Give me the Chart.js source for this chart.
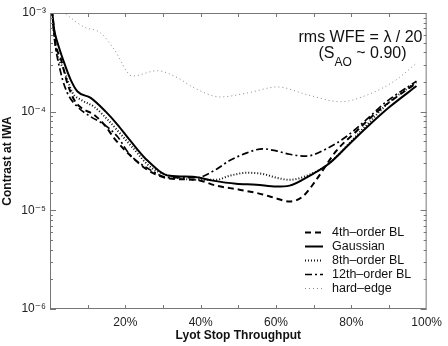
<!DOCTYPE html>
<html><head><meta charset="utf-8">
<script src="https://cdn.jsdelivr.net/npm/chart.js@4"></script>
<style>html,body{margin:0;padding:0;background:#fff}</style>
</head><body>
<canvas id="c" width="448" height="346"></canvas>
<script>
// ---- data (throughput in %, contrast at IWA) ----
const seriesNames = ['4th\u2013order BL', 'Gaussian', '8th\u2013order BL', '12th\u2013order BL', 'hard\u2013edge'];

const bl4T = [0.5, 1.5, 2.9, 4.6, 6.4, 8.2, 11.7, 14.8, 17.0, 22.0, 26.4, 31.7, 38.8, 44.1, 50.3, 56.5, 60.1, 63.6, 67.1, 70.7, 76.0, 81.3, 86.6, 92.0, 97.3];
const bl4C = [1.1e-3, 4.9e-4, 3.4e-4, 1.95e-4, 1.32e-4, 1.1e-4, 9.3e-5, 7.1e-5, 5.4e-5, 3.4e-5, 2.5e-5, 2.1e-5, 2.04e-5, 1.78e-5, 1.62e-5, 1.45e-5, 1.32e-5, 1.23e-5, 1.38e-5, 2.04e-5, 4.0e-5, 6.3e-5, 9.8e-5, 1.41e-4, 1.95e-4];

const gaussT = [0.5, 1.1, 2.0, 3.8, 5.5, 7.3, 10.8, 14.8, 17.9, 21.1, 25.5, 31.7, 37.9, 43.2, 49.4, 54.8, 60.1, 63.6, 68.9, 74.2, 79.5, 84.9, 90.2, 97.3];
const gaussC = [1.1e-3, 6.8e-4, 5.0e-4, 3.1e-4, 2.1e-4, 1.6e-4, 1.38e-4, 1.0e-4, 7.4e-5, 5.2e-5, 3.3e-5, 2.24e-5, 2.19e-5, 2.0e-5, 1.86e-5, 1.82e-5, 1.74e-5, 1.78e-5, 2.24e-5, 3.0e-5, 4.7e-5, 7.4e-5, 1.12e-4, 1.82e-4];

const bl8T = [0.5, 1.5, 3.8, 6.0, 8.2, 11.7, 15.3, 18.8, 22.0, 26.4, 31.7, 38.8, 44.1, 47.7, 52.1, 56.5, 60.1, 63.6, 68.9, 74.2, 79.5, 84.9, 90.2, 97.3];
const bl8C = [1.1e-3, 4.6e-4, 2.6e-4, 1.55e-4, 1.32e-4, 1.12e-4, 8.3e-5, 5.9e-5, 4.3e-5, 2.8e-5, 2.24e-5, 2.04e-5, 2.04e-5, 2.24e-5, 2.4e-5, 2.34e-5, 2.14e-5, 2.04e-5, 2.3e-5, 3.0e-5, 4.8e-5, 7.9e-5, 1.26e-4, 2.0e-4];

const bl12T = [0.5, 1.1, 2.9, 4.6, 7.3, 10.8, 14.4, 17.9, 21.1, 26.4, 31.7, 38.8, 44.1, 47.7, 52.1, 56.5, 60.1, 63.6, 68.0, 73.4, 78.7, 84.0, 89.3, 97.3];
const bl12C = [1.1e-3, 5.8e-4, 2.45e-4, 1.55e-4, 1.12e-4, 8.9e-5, 7.4e-5, 5.6e-5, 3.7e-5, 2.6e-5, 2.14e-5, 2.14e-5, 2.6e-5, 3.2e-5, 3.8e-5, 4.2e-5, 4.0e-5, 3.7e-5, 3.55e-5, 4.2e-5, 5.6e-5, 8.3e-5, 1.26e-4, 2.04e-4];

const hardT = [2.5, 4.6, 9.1, 13.4, 17.0, 21.9, 28.5, 33.9, 38.3, 45.3, 52.5, 60.4, 68.4, 77.2, 84.3, 91.4, 97.3];
const hardC = [1.1e-3, 9.5e-4, 7.2e-4, 6.3e-4, 4.3e-4, 2.3e-4, 2.6e-4, 2.2e-4, 1.74e-4, 1.41e-4, 1.55e-4, 1.78e-4, 1.48e-4, 1.26e-4, 1.48e-4, 2.04e-4, 3.1e-4];

const xTickValues = [0, 10, 20, 30, 40, 50, 60, 70, 80, 90, 100];
const xTickLabels = ['', '', '20%', '', '40%', '', '60%', '', '80%', '', '100%'];
const yDecades = [-6, -5, -4, -3];
const yDecadeLabels = ['10\u207B\u2076', '10\u207B\u2075', '10\u207B\u2074', '10\u207B\u00B3'];

const FONT = '"Liberation Sans", Arial, Helvetica, "DejaVu Sans", sans-serif';

function pts(t, c) { return t.map((v, i) => ({ x: v, y: c[i] })); }

const styles = [
  { color: '#000', width: 2, dash: [6, 4] },
  { color: '#000', width: 2, dash: [] },
  { color: '#111', width: 2, dash: [1, 2] },
  { color: '#000', width: 1.7, dash: [7, 3, 2, 3] },
  { color: '#8a8a8a', width: 1, dash: [1, 3] }
];
const dataSets = [pts(bl4T, bl4C), pts(gaussT, gaussC), pts(bl8T, bl8C), pts(bl12T, bl12C), pts(hardT, hardC)];

const decor = {
  id: 'decor',
  afterDraw(chart) {
    const { ctx, chartArea: a, scales: { x, y } } = chart;
    ctx.save();
    ctx.strokeStyle = '#777';
    ctx.lineWidth = 1;
    ctx.setLineDash([]);
    ctx.strokeRect(a.left + 0.5, a.top + 0.5, a.right - a.left - 1, a.bottom - a.top - 1);
    const seg = (x1, y1, x2, y2) => { ctx.beginPath(); ctx.moveTo(x1, y1); ctx.lineTo(x2, y2); ctx.stroke(); };
    xTickValues.forEach(v => {
      if (v <= 0 || v >= 100) return;
      const px = Math.round(x.getPixelForValue(v)) + 0.5;
      seg(px, a.bottom, px, a.bottom - 4);
      seg(px, a.top, px, a.top + 4);
    });
    y.ticks.forEach(t => {
      const l = Math.log10(t.value);
      const major = Math.abs(l - Math.round(l)) < 1e-6;
      const py = Math.round(y.getPixelForValue(t.value)) + 0.5;
      const L = major ? 6 : 3;
      seg(a.left, py, a.left + L, py);
      seg(a.right, py, a.right - L, py);
    });
    // legend
    ctx.font = '12.5px ' + FONT;
    ctx.textBaseline = 'middle';
    ctx.textAlign = 'left';
    chart.data.datasets.forEach((ds, i) => {
      const yy = a.bottom - 77 + i * 14 + 0.5;
      ctx.strokeStyle = ds.borderColor;
      ctx.lineWidth = ds.borderWidth;
      ctx.setLineDash(ds.borderDash || []);
      seg(305, yy, 323, yy);
      ctx.setLineDash([]);
      ctx.fillStyle = '#111';
      ctx.fillText(ds.label, 332, yy);
    });
    // annotation
    ctx.fillStyle = '#111';
    ctx.textBaseline = 'alphabetic';
    ctx.font = '16px ' + FONT;
    ctx.textAlign = 'center';
    ctx.fillText('rms WFE = \u03BB / 20', 360.5, 42);
    ctx.textAlign = 'left';
    const p1 = '(S', p3 = ' ~ 0.90)';
    ctx.font = '16px ' + FONT;
    const w1 = ctx.measureText(p1).width, w3 = ctx.measureText(p3).width;
    ctx.font = '12px ' + FONT;
    const w2 = ctx.measureText('AO').width;
    let sx = 362.5 - (w1 + w2 + w3) / 2;
    ctx.font = '16px ' + FONT;
    ctx.fillText(p1, sx, 58);
    ctx.font = '12px ' + FONT;
    ctx.fillText('AO', sx + w1, 66);
    ctx.font = '16px ' + FONT;
    ctx.fillText(p3, sx + w1 + w2, 58);
    ctx.restore();
  }
};

new Chart(document.getElementById('c'), {
  type: 'line',
  data: {
    datasets: dataSets.map((d, i) => ({
      label: seriesNames[i],
      data: d,
      borderColor: styles[i].color,
      borderWidth: styles[i].width,
      borderDash: styles[i].dash,
      pointRadius: 0,
      fill: false,
      cubicInterpolationMode: 'monotone'
    }))
  },
  options: {
    responsive: false,
    animation: false,
    devicePixelRatio: 1,
    layout: { padding: { top: 13, right: 21, left: 0, bottom: 0 } },
    plugins: { legend: { display: false }, tooltip: { enabled: false } },
    scales: {
      x: {
        type: 'linear', min: 0, max: 100,
        afterBuildTicks: s => { s.ticks = xTickValues.map(v => ({ value: v })); },
        ticks: {
          autoSkip: false, maxRotation: 0, padding: 6, color: '#222',
          font: { family: FONT, size: 12 },
          callback: v => { const i = xTickValues.indexOf(v); return i >= 0 ? xTickLabels[i] : ''; }
        },
        grid: { display: false, drawTicks: false },
        border: { display: false },
        title: { display: true, text: 'Lyot Stop Throughput', color: '#111',
          font: { family: FONT, size: 12, weight: 'bold' }, padding: { top: 0, bottom: 3 } },
        afterFit: s => { s.height = 37; }
      },
      y: {
        type: 'logarithmic', min: 1e-6, max: 1e-3,
        ticks: {
          autoSkip: false, padding: 4, color: '#222',
          font: { family: FONT, size: 12 },
          callback: v => {
            const l = Math.log10(v);
            const r = Math.round(l);
            if (Math.abs(l - r) > 1e-6) return '';
            const i = yDecades.indexOf(r);
            return i >= 0 ? yDecadeLabels[i] : '';
          }
        },
        grid: { display: false, drawTicks: false },
        border: { display: false },
        title: { display: true, text: 'Contrast at IWA', color: '#111',
          font: { family: FONT, size: 12, weight: 'bold' }, padding: { top: 0, bottom: 0 } },
        afterFit: s => { s.width = 50; }
      }
    }
  },
  plugins: [decor]
});
</script>
</body></html>
